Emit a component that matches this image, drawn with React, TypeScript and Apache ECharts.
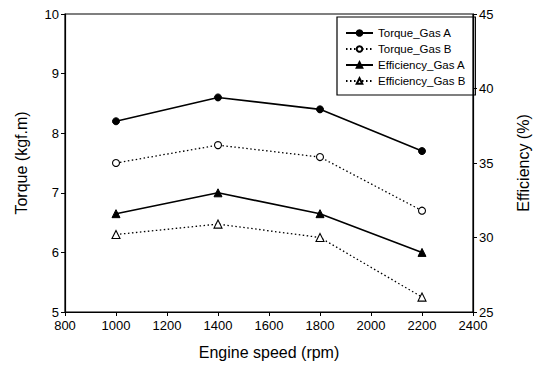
import React, { useEffect, useRef } from "react";
import * as echarts from "echarts";

const speeds = [1000, 1400, 1800, 2200];
const torqueGasA = [8.2, 8.6, 8.4, 7.7];
const torqueGasB = [7.5, 7.8, 7.6, 6.7];
const effGasA = [31.6, 33.0, 31.6, 29.0];
const effGasB = [30.2, 30.9, 30.0, 26.0];
const seriesNames = ["Torque_Gas A", "Torque_Gas B", "Efficiency_Gas A", "Efficiency_Gas B"];

const FONT = "Liberation Sans, Arial, sans-serif";

export default function App() {
  const ref = useRef<HTMLDivElement>(null);
  useEffect(() => {
    if (!ref.current) return;
    const chart = echarts.init(ref.current, undefined, { renderer: "svg" });
    const pair = (ys: number[]) => speeds.map((x, i) => [x, ys[i]]);
    const solid = { color: "#000", width: 1.6, type: "solid" as const };
    const dotted = { color: "#000", width: 1.3, type: [1.5, 2.5] as any };
    chart.setOption({
      animation: false,
      textStyle: { fontFamily: FONT, color: "#000" },
      grid: { left: 65, right: 61, top: 14, bottom: 55, show: true, borderColor: "#000", borderWidth: 1.2 },
      legend: {
        orient: "vertical",
        left: 337,
        top: 17,
        width: 138,
        padding: [10, 10, 8, 8],
        borderColor: "#000",
        borderWidth: 1.2,
        itemWidth: 27,
        itemHeight: 7,
        itemGap: 4,
        textStyle: { fontSize: 11.5, color: "#000", fontFamily: FONT },
        data: seriesNames,
      },
      xAxis: {
        type: "value",
        min: 800,
        max: 2400,
        interval: 200,
        name: "Engine speed (rpm)",
        nameLocation: "middle",
        nameGap: 32,
        nameTextStyle: { fontSize: 16, color: "#000", fontFamily: FONT },
        axisLine: { show: true, lineStyle: { color: "#000", width: 1.2 } },
        axisTick: { show: true, inside: false, length: 4, lineStyle: { color: "#000" } },
        axisLabel: { fontSize: 13, color: "#000", margin: 7, fontFamily: FONT, formatter: (v: number) => String(v) },
        splitLine: { show: false },
      },
      yAxis: [
        {
          type: "value",
          min: 5,
          max: 10,
          interval: 1,
          position: "left",
          name: "Torque (kgf.m)",
          nameLocation: "middle",
          nameRotate: 90,
          nameGap: 36,
          nameTextStyle: { fontSize: 16, color: "#000", fontFamily: FONT },
          axisLine: { show: true, lineStyle: { color: "#000", width: 1.2 } },
          axisTick: { show: true, inside: false, length: 4, lineStyle: { color: "#000" } },
          axisLabel: { fontSize: 13, color: "#000", margin: 6, fontFamily: FONT },
          splitLine: { show: false },
        },
        {
          type: "value",
          min: 25,
          max: 45,
          interval: 5,
          position: "right",
          name: "Efficiency (%)",
          nameLocation: "middle",
          nameRotate: 90,
          nameGap: 42,
          nameTextStyle: { fontSize: 16, color: "#000", fontFamily: FONT },
          axisLine: { show: true, lineStyle: { color: "#000", width: 1.2 } },
          axisTick: { show: true, inside: false, length: 4, lineStyle: { color: "#000" } },
          axisLabel: { fontSize: 13, color: "#000", margin: 6, fontFamily: FONT },
          splitLine: { show: false },
        },
      ],
      series: [
        {
          name: seriesNames[0],
          type: "line",
          yAxisIndex: 0,
          data: pair(torqueGasA),
          symbol: "circle",
          symbolSize: 7,
          lineStyle: solid,
          itemStyle: { color: "#000", borderColor: "#000", borderWidth: 1 },
        },
        {
          name: seriesNames[1],
          type: "line",
          yAxisIndex: 0,
          data: pair(torqueGasB),
          symbol: "circle",
          symbolSize: 7,
          lineStyle: dotted,
          itemStyle: { color: "#fff", borderColor: "#000", borderWidth: 1.1 },
        },
        {
          name: seriesNames[2],
          type: "line",
          yAxisIndex: 1,
          data: pair(effGasA),
          symbol: "triangle",
          symbolSize: 8,
          lineStyle: solid,
          itemStyle: { color: "#000", borderColor: "#000", borderWidth: 1 },
        },
        {
          name: seriesNames[3],
          type: "line",
          yAxisIndex: 1,
          data: pair(effGasB),
          symbol: "triangle",
          symbolSize: 8,
          lineStyle: dotted,
          itemStyle: { color: "#fff", borderColor: "#000", borderWidth: 1.1 },
        },
      ],
    });
    return () => chart.dispose();
  }, []);
  return <div ref={ref} style={{ width: 539, height: 367, position: "absolute", left: 0, top: 0 }} />;
}
